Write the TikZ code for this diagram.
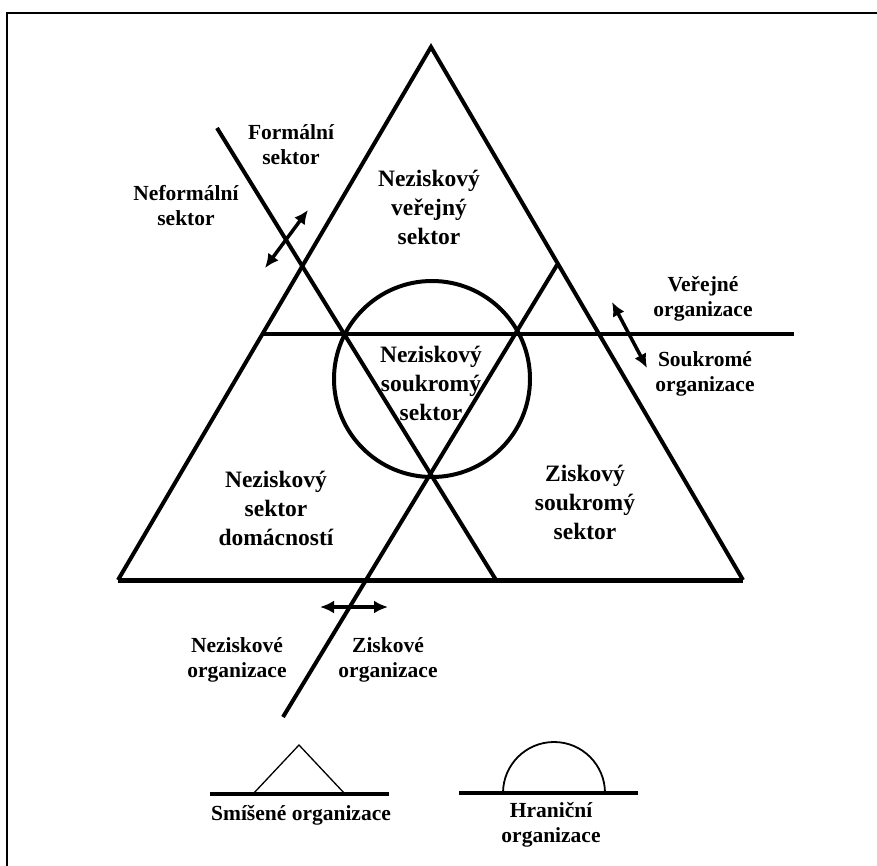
\documentclass[tikz,border=0pt]{standalone}
\usepackage{fontspec}
\setmainfont{Liberation Serif}
\usetikzlibrary{arrows.meta}
\tikzset{
 rule/.style={line width=4pt,draw=black},
 base/.style={line width=5pt,draw=black},
 sketch/.style={line width=1.3pt,draw=black},
 twoway/.style={{Latex[length=14pt,width=13pt]}-{Latex[length=14pt,width=13pt]},line width=3.5pt,draw=black},
 sector/.style={font=\bfseries\fontsize{23.5}{29}\selectfont,align=center},
 org/.style={font=\bfseries\fontsize{21.5}{25}\selectfont,align=center}
}

\begin{document}
\begin{tikzpicture}[x=1pt,y=-1pt]
\useasboundingbox (0,0) rectangle (877,866);
% frame
\draw[line width=2.5pt] (7,866)--(7,13)--(877,13);

% triangle and dividing lines
\coordinate (apex) at (431,47);
\coordinate (left) at (118,580);
\coordinate (right) at (743,580);
\coordinate (hl) at (263,334);
\coordinate (hr) at (794,334);
\coordinate (f1) at (217,128);
\coordinate (f2) at (496,580);
\coordinate (p1) at (283,717);
\coordinate (p2) at (557,265);
\draw[rule] (left)--(apex)--(right);
\draw[base] (left)--(right);
\draw[rule] (hl)--(hr);
\draw[rule] (f1)--(f2);
\draw[rule] (p1)--(p2);
\draw[rule] (432,379) circle[radius=98pt];

% arrows
\coordinate (a1) at (265,268);
\coordinate (a2) at (308,210);
\coordinate (b1) at (612,302);
\coordinate (b2) at (647,368);
\coordinate (c1) at (320,607);
\coordinate (c2) at (388,607);
\draw[twoway] (a1)--(a2);
\draw[twoway] (b1)--(b2);
\draw[twoway] (c1)--(c2);

% sectors
\node[sector] (public) at (429,207) {Neziskový\\veřejný\\sektor};
\node[sector] (private) at (431,383) {Neziskový\\soukromý\\sektor};
\node[sector] (household) at (276,508) {Neziskový\\sektor\\domácností};
\node[sector] (business) at (585,502) {Ziskový\\soukromý\\sektor};

% organisations
\node[org] (formal) at (291,145) {Formální\\sektor};
\node[org] (informal) at (186,206) {Neformální\\sektor};
\node[org] (pubOrg) at (703,299) {Veřejné\\organizace};
\node[org] (privOrg) at (705,374) {Soukromé\\organizace};
\node[org] (nonprofit) at (237,660) {Neziskové\\organizace};
\node[org] (profit) at (388,660) {Ziskové\\organizace};

% legend
\coordinate (m1) at (210,794);
\coordinate (m2) at (389,794);
\coordinate (h1) at (459,793);
\coordinate (h2) at (638,793);
\draw[base,line width=4.5pt] (m1)--(m2);
\draw[sketch] (253,794)--(299,745)--(345,794);
\draw[base,line width=4.5pt] (h1)--(h2);
\draw[sketch,line width=1.8pt] (503,793) arc[start angle=180,end angle=0,radius=51pt];
\node[org] (mixed) at (301,815) {Smíšené organizace};
\node[org] (border) at (551,825) {Hraniční\\organizace};
\end{tikzpicture}
\end{document}
